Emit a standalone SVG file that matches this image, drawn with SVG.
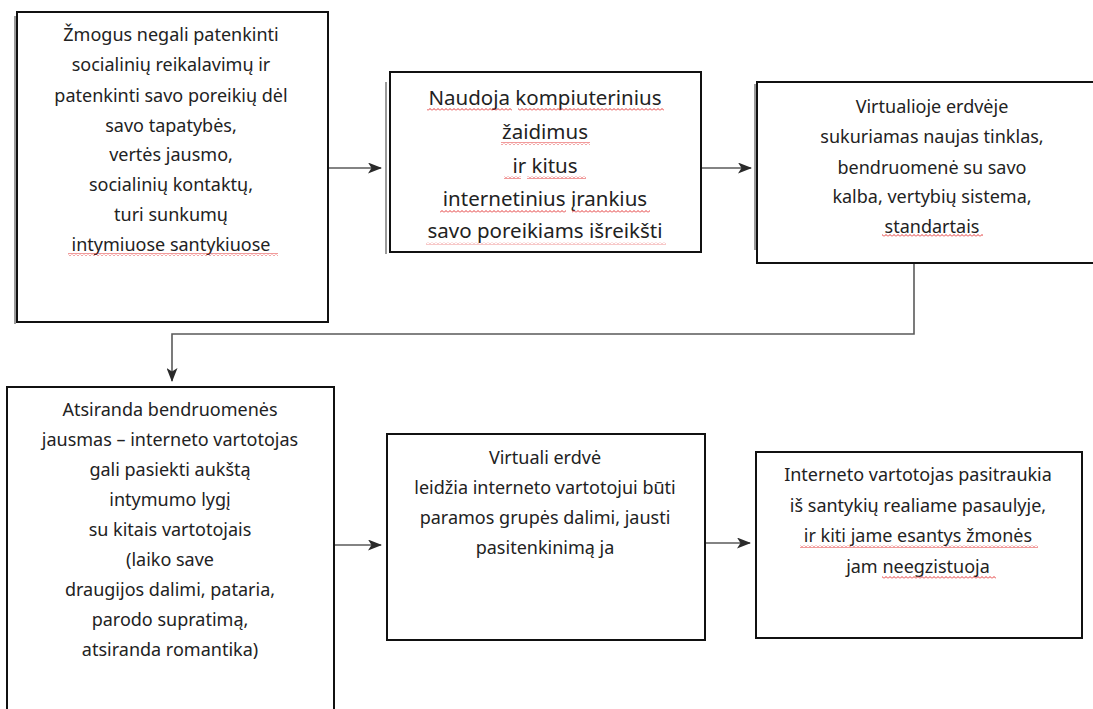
<svg xmlns="http://www.w3.org/2000/svg" width="1093" height="709" viewBox="0 0 1093 709">
<style>
.box{fill:#fff;stroke:#111;stroke-width:2}
.shadow{stroke:#9a9a9a;stroke-width:2;fill:none}
.t{font-family:"Noto Sans","Open Sans","DejaVu Sans",sans-serif;font-size:18px;fill:#222;text-anchor:middle}
.t2{font-size:20.5px}
.conn{stroke:#5a5a5a;stroke-width:1.6;fill:none}
.sq{fill:url(#wave)}
.sq2{fill:url(#wave);opacity:0.55}
</style>
<defs>
<marker id="arr" viewBox="0 0 14 11" refX="13" refY="5.5" markerWidth="14" markerHeight="11" markerUnits="userSpaceOnUse" orient="auto">
<path d="M0,0 L14,5.5 L0,11 L3.5,5.5 z" fill="#2a2a2a"/>
</marker>
<pattern id="wave" x="0" y="0" width="4" height="3" patternUnits="userSpaceOnUse">
<path d="M0,2.5 L2,0.5 L4,2.5" fill="none" stroke="#e02020" stroke-width="0.9"/>
</pattern>
</defs>

<g id="connectors">
<line class="conn" x1="329" y1="168" x2="381" y2="168" marker-end="url(#arr)"/>
<line class="conn" x1="701" y1="168" x2="751" y2="168" marker-end="url(#arr)"/>
<polyline class="conn" points="914,263 914,334 172,334 172,381" marker-end="url(#arr)"/>
<line class="conn" x1="335" y1="545" x2="381" y2="545" marker-end="url(#arr)"/>
<line class="conn" x1="705" y1="543" x2="750" y2="543" marker-end="url(#arr)"/>
</g>

<g id="node1">
<line class="shadow" x1="15" y1="16" x2="15" y2="324"/>
<rect class="box" x="17" y="12" width="311" height="310"/>
<text class="t" x="171" y="41">Žmogus negali patenkinti</text>
<text class="t" x="171" y="71">socialinių reikalavimų ir</text>
<text class="t" x="171" y="102">patenkinti savo poreikių dėl</text>
<text class="t" x="171" y="132">savo tapatybės,</text>
<text class="t" x="171" y="161">vertės jausmo,</text>
<text class="t" x="171" y="191">socialinių kontaktų,</text>
<text class="t" x="171" y="221">turi sunkumų</text>
<text class="t" x="171" y="251">intymiuose santykiuose</text>
<rect class="sq" x="68" y="253" width="210" height="3"/>
</g>

<g id="node2">
<line class="shadow" x1="386" y1="82" x2="386" y2="254"/>
<rect class="box" x="390" y="72" width="311" height="180"/>
<text class="t t2" x="545" y="105">Naudoja kompiuterinius</text>
<text class="t t2" x="545" y="139">žaidimus</text>
<text class="t t2" x="545" y="173">ir kitus</text>
<text class="t t2" x="545" y="206">internetinius įrankius</text>
<text class="t t2" x="545" y="238">savo poreikiams išreikšti</text>
<rect class="sq" x="427" y="108" width="85" height="3"/>
<rect class="sq" x="518" y="108" width="146" height="3"/>
<rect class="sq" x="501" y="142" width="89" height="3"/>
<rect class="sq" x="504" y="176" width="17" height="3"/>
<rect class="sq" x="527" y="176" width="59" height="3"/>
<rect class="sq" x="440" y="210" width="126" height="3"/>
<rect class="sq" x="572" y="210" width="78" height="3"/>
<rect class="sq2" x="426" y="242" width="240" height="3"/>
</g>

<g id="node3">
<line class="shadow" x1="755" y1="84" x2="755" y2="250"/>
<rect class="box" x="757" y="82" width="340" height="181"/>
<text class="t" x="932" y="113">Virtualioje erdvėje</text>
<text class="t" x="932" y="143">sukuriamas naujas tinklas,</text>
<text class="t" x="932" y="174">bendruomenė su savo</text>
<text class="t" x="932" y="203">kalba, vertybių sistema,</text>
<text class="t" x="932" y="233">standartais</text>
<rect class="sq" x="882" y="234" width="101" height="3"/>
</g>

<g id="node4">
<rect class="box" x="7" y="387" width="327" height="330"/>
<text class="t" x="170" y="416">Atsiranda bendruomenės</text>
<text class="t" x="170" y="446">jausmas – interneto vartotojas</text>
<text class="t" x="170" y="476">gali pasiekti aukštą</text>
<text class="t" x="170" y="506">intymumo lygį</text>
<text class="t" x="170" y="536">su kitais vartotojais</text>
<text class="t" x="170" y="566">(laiko save</text>
<text class="t" x="170" y="596">draugijos dalimi, pataria,</text>
<text class="t" x="170" y="626">parodo supratimą,</text>
<text class="t" x="170" y="656">atsiranda romantika)</text>
</g>

<g id="node5">
<rect class="box" x="387" y="434" width="318" height="206"/>
<text class="t" x="545" y="464">Virtuali erdvė</text>
<text class="t" x="545" y="494">leidžia interneto vartotojui būti</text>
<text class="t" x="545" y="524">paramos grupės dalimi, jausti</text>
<text class="t" x="545" y="554">pasitenkinimą ja</text>
</g>

<g id="node6">
<rect class="box" x="756" y="452" width="326" height="186"/>
<text class="t" x="918" y="481">Interneto vartotojas pasitraukia</text>
<text class="t" x="918" y="512">iš santykių realiame pasaulyje,</text>
<text class="t" x="918" y="542">ir kiti jame esantys žmonės</text>
<text class="t" x="918" y="573">jam neegzistuoja</text>
<rect class="sq" x="800" y="545" width="238" height="3"/>
<rect class="sq" x="882" y="576" width="114" height="3"/>
</g>
</svg>
